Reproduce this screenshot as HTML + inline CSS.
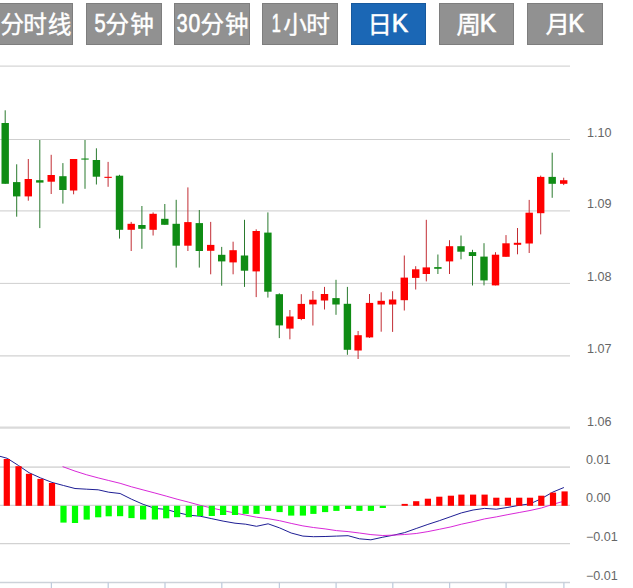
<!DOCTYPE html>
<html><head><meta charset="utf-8"><title>K</title>
<style>
html,body{margin:0;padding:0;background:#fff}
body{width:633px;height:588px;overflow:hidden;position:relative;font-family:"Liberation Sans",sans-serif}
.tab{box-shadow:inset 0 0 0 1px rgba(0,0,0,.13);position:absolute;top:3px;height:41.8px}
#chart{position:absolute;left:0;top:0}
#tabtxt{position:absolute;left:0;top:0}
.yl{position:absolute;font-size:12px;line-height:16px;height:16px;color:#666;white-space:nowrap;transform:scaleX(1.05);transform-origin:0 0}
</style></head><body>
<div class="tab" style="left:-2px;width:74.95px;background:#919191"></div>
<div class="tab" style="left:86px;width:75.9px;background:#919191"></div>
<div class="tab" style="left:174.05px;width:75.95px;background:#919191"></div>
<div class="tab" style="left:262px;width:76px;background:#919191"></div>
<div class="tab" style="left:351.05px;width:74.9px;background:#1b67b5"></div>
<div class="tab" style="left:439.05px;width:74.9px;background:#919191"></div>
<div class="tab" style="left:527.05px;width:75.85px;background:#919191"></div>
<svg id="tabtxt" width="633" height="50" viewBox="0 0 633 50" fill="#fff" font-family="Liberation Sans, Noto Sans CJK SC, sans-serif"><text x="0.58" y="33.10" font-size="23.6" stroke="#fff" stroke-width="0.4">分</text><text x="23.24" y="33.10" font-size="23.6" stroke="#fff" stroke-width="0.4">时</text><text x="47.72" y="33.10" font-size="23.6" stroke="#fff" stroke-width="0.4">线</text><text transform="translate(94.60 31.55) scale(1.0019 1.2464)" font-size="20" stroke="#fff" stroke-width="0.55">5</text><text x="105.59" y="33.10" font-size="23.6" stroke="#fff" stroke-width="0.4">分</text><text x="130.28" y="33.10" font-size="23.6" stroke="#fff" stroke-width="0.4">钟</text><text transform="translate(176.66 31.55) scale(0.9702 1.2464)" font-size="20" stroke="#fff" stroke-width="0.55">3</text><text transform="translate(188.57 31.55) scale(1.0564 1.2464)" font-size="20" stroke="#fff" stroke-width="0.55">0</text><text x="200.59" y="33.10" font-size="23.6" stroke="#fff" stroke-width="0.4">分</text><text x="224.98" y="33.10" font-size="23.6" stroke="#fff" stroke-width="0.4">钟</text><text transform="translate(271.66 31.55) scale(0.8118 1.2464)" font-size="20" stroke="#fff" stroke-width="0.55">1</text><text x="283.35" y="33.10" font-size="23.6" stroke="#fff" stroke-width="0.4">小</text><text x="306.21" y="33.10" font-size="23.6" stroke="#fff" stroke-width="0.4">时</text><text x="367.59" y="33.10" font-size="24.4" stroke="#fff" stroke-width="0.4">日</text><text transform="translate(391.78 31.55) scale(1.2288 1.2464)" font-size="20" stroke="#fff" stroke-width="0.55">K</text><text x="456.48" y="33.10" font-size="24.4" stroke="#fff" stroke-width="0.4">周</text><text transform="translate(479.78 31.55) scale(1.2288 1.2464)" font-size="20" stroke="#fff" stroke-width="0.55">K</text><text x="545.56" y="33.10" font-size="24.4" stroke="#fff" stroke-width="0.4">月</text><text transform="translate(568.24 31.55) scale(1.1939 1.2464)" font-size="20" stroke="#fff" stroke-width="0.55">K</text></svg>
<svg id="chart" width="633" height="588" viewBox="0 0 633 588">
<g fill="none"><path d="M0 66.05H570" stroke="#d6d6d6" stroke-width="1.3"/><path d="M0 139.50H570" stroke="#cfcfcf" stroke-width="1.0"/><path d="M0 210.95H570" stroke="#d6d6d6" stroke-width="1.3"/><path d="M0 283.40H570" stroke="#cfcfcf" stroke-width="1.0"/><path d="M0 355.85H570" stroke="#d2d2d2" stroke-width="1.2"/><path d="M0 427.60H570" stroke="#dadada" stroke-width="2.2"/><path d="M0 467.10H570" stroke="#dbdbdb" stroke-width="1.7"/><path d="M0 505.30H570" stroke="#d4d4d4" stroke-width="1.2"/><path d="M0 543.70H570" stroke="#d2d2d2" stroke-width="1.2"/><path d="M0 582.5H570" stroke="#cdd2d9" stroke-width="1.3"/><path d="M51.4 582.5V588" stroke="#bfcbdc" stroke-width="1.25"/><path d="M108.2 582.5V588" stroke="#bfcbdc" stroke-width="1.25"/><path d="M165.0 582.5V588" stroke="#bfcbdc" stroke-width="1.25"/><path d="M221.8 582.5V588" stroke="#bfcbdc" stroke-width="1.25"/><path d="M279.4 582.5V588" stroke="#bfcbdc" stroke-width="1.25"/><path d="M336.1 582.5V588" stroke="#bfcbdc" stroke-width="1.25"/><path d="M392.8 582.5V588" stroke="#bfcbdc" stroke-width="1.25"/><path d="M449.6 582.5V588" stroke="#bfcbdc" stroke-width="1.25"/><path d="M506.1 582.5V588" stroke="#bfcbdc" stroke-width="1.25"/><path d="M563.9 582.5V588" stroke="#bfcbdc" stroke-width="1.25"/></g>
<g><path d="M5.20 110.30V183.80" stroke="#2a7a2e" stroke-width="1"/><rect x="1.50" y="123.00" width="7.40" height="60.80" fill="#0f8c14"/><path d="M16.70 164.30V216.70" stroke="#2a7a2e" stroke-width="1"/><rect x="13.00" y="182.10" width="7.40" height="14.30" fill="#0f8c14"/><path d="M28.30 159.00V200.70" stroke="#c22d34" stroke-width="1"/><rect x="24.60" y="179.00" width="7.40" height="17.40" fill="#ff0000"/><path d="M39.80 140.00V228.10" stroke="#2a7a2e" stroke-width="1"/><rect x="36.10" y="180.20" width="7.40" height="2.40" fill="#0f8c14"/><path d="M51.20 154.80V194.00" stroke="#c22d34" stroke-width="1"/><rect x="47.50" y="175.00" width="7.40" height="6.70" fill="#ff0000"/><path d="M62.90 163.10V203.60" stroke="#2a7a2e" stroke-width="1"/><rect x="59.20" y="176.20" width="7.40" height="13.80" fill="#0f8c14"/><path d="M73.60 159.00V194.30" stroke="#c22d34" stroke-width="1"/><rect x="69.90" y="159.00" width="7.40" height="31.50" fill="#ff0000"/><path d="M85.00 140.00V188.80" stroke="#2a7a2e" stroke-width="1"/><rect x="81.30" y="158.50" width="7.40" height="1.10" fill="#0f8c14"/><path d="M96.40 148.30V184.50" stroke="#2a7a2e" stroke-width="1"/><rect x="92.70" y="160.00" width="7.40" height="16.70" fill="#0f8c14"/><path d="M108.10 161.90V186.80" stroke="#c22d34" stroke-width="1"/><rect x="104.40" y="176.80" width="7.40" height="1.10" fill="#ff0000"/><path d="M119.50 174.80V238.60" stroke="#2a7a2e" stroke-width="1"/><rect x="115.80" y="175.70" width="7.40" height="54.10" fill="#0f8c14"/><path d="M131.20 221.90V251.00" stroke="#c22d34" stroke-width="1"/><rect x="127.50" y="223.80" width="7.40" height="6.00" fill="#ff0000"/><path d="M141.90 206.00V248.80" stroke="#2a7a2e" stroke-width="1"/><rect x="138.20" y="225.00" width="7.40" height="3.80" fill="#0f8c14"/><path d="M153.10 212.40V235.50" stroke="#c22d34" stroke-width="1"/><rect x="149.40" y="213.80" width="7.40" height="16.00" fill="#ff0000"/><path d="M164.80 204.00V224.80" stroke="#2a7a2e" stroke-width="1"/><rect x="161.10" y="218.80" width="7.40" height="6.00" fill="#0f8c14"/><path d="M176.20 199.80V267.60" stroke="#2a7a2e" stroke-width="1"/><rect x="172.50" y="223.80" width="7.40" height="21.90" fill="#0f8c14"/><path d="M187.90 187.40V251.00" stroke="#c22d34" stroke-width="1"/><rect x="184.20" y="222.10" width="7.40" height="23.60" fill="#ff0000"/><path d="M199.30 210.00V267.60" stroke="#2a7a2e" stroke-width="1"/><rect x="195.60" y="223.10" width="7.40" height="27.90" fill="#0f8c14"/><path d="M210.70 221.90V274.30" stroke="#c22d34" stroke-width="1"/><rect x="207.00" y="244.90" width="7.40" height="5.90" fill="#ff0000"/><path d="M221.70 246.90V285.70" stroke="#2a7a2e" stroke-width="1"/><rect x="218.00" y="254.80" width="7.40" height="6.60" fill="#0f8c14"/><path d="M233.10 241.70V274.30" stroke="#c22d34" stroke-width="1"/><rect x="229.40" y="250.20" width="7.40" height="12.20" fill="#ff0000"/><path d="M244.50 219.80V286.90" stroke="#2a7a2e" stroke-width="1"/><rect x="240.80" y="255.50" width="7.40" height="15.20" fill="#0f8c14"/><path d="M256.20 229.30V297.10" stroke="#c22d34" stroke-width="1"/><rect x="252.50" y="231.00" width="7.40" height="40.40" fill="#ff0000"/><path d="M267.90 212.40V297.60" stroke="#2a7a2e" stroke-width="1"/><rect x="264.20" y="232.60" width="7.40" height="59.10" fill="#0f8c14"/><path d="M279.30 293.30V338.10" stroke="#2a7a2e" stroke-width="1"/><rect x="275.60" y="294.20" width="7.40" height="31.20" fill="#0f8c14"/><path d="M289.90 310.00V339.30" stroke="#c22d34" stroke-width="1"/><rect x="286.20" y="316.50" width="7.40" height="12.10" fill="#ff0000"/><path d="M301.30 294.20V320.20" stroke="#c22d34" stroke-width="1"/><rect x="297.60" y="303.90" width="7.40" height="15.10" fill="#ff0000"/><path d="M312.90 291.00V325.50" stroke="#c22d34" stroke-width="1"/><rect x="309.20" y="299.70" width="7.40" height="4.70" fill="#ff0000"/><path d="M324.50 286.90V309.50" stroke="#c22d34" stroke-width="1"/><rect x="320.80" y="294.00" width="7.40" height="6.50" fill="#ff0000"/><path d="M336.00 279.80V314.80" stroke="#2a7a2e" stroke-width="1"/><rect x="332.30" y="298.10" width="7.40" height="6.40" fill="#0f8c14"/><path d="M347.40 286.90V354.80" stroke="#2a7a2e" stroke-width="1"/><rect x="343.70" y="303.80" width="7.40" height="46.00" fill="#0f8c14"/><path d="M358.10 331.00V359.00" stroke="#c22d34" stroke-width="1"/><rect x="354.40" y="335.20" width="7.40" height="15.30" fill="#ff0000"/><path d="M369.50 294.00V337.90" stroke="#c22d34" stroke-width="1"/><rect x="365.80" y="302.90" width="7.40" height="34.50" fill="#ff0000"/><path d="M381.20 292.30V331.70" stroke="#c22d34" stroke-width="1"/><rect x="377.50" y="300.80" width="7.40" height="3.70" fill="#ff0000"/><path d="M392.60 291.20V331.90" stroke="#c22d34" stroke-width="1"/><rect x="388.90" y="299.50" width="7.40" height="5.00" fill="#ff0000"/><path d="M404.30 255.50V310.50" stroke="#c22d34" stroke-width="1"/><rect x="400.60" y="277.60" width="7.40" height="22.60" fill="#ff0000"/><path d="M415.70 266.20V289.50" stroke="#c22d34" stroke-width="1"/><rect x="412.00" y="269.30" width="7.40" height="8.60" fill="#ff0000"/><path d="M426.30 219.80V281.40" stroke="#c22d34" stroke-width="1"/><rect x="422.60" y="267.40" width="7.40" height="6.60" fill="#ff0000"/><path d="M437.90 254.50V274.00" stroke="#2a7a2e" stroke-width="1"/><rect x="434.20" y="267.10" width="7.40" height="1.70" fill="#0f8c14"/><path d="M449.50 240.20V274.00" stroke="#c22d34" stroke-width="1"/><rect x="445.80" y="246.20" width="7.40" height="15.20" fill="#ff0000"/><path d="M461.00 235.50V259.30" stroke="#2a7a2e" stroke-width="1"/><rect x="457.30" y="246.20" width="7.40" height="5.50" fill="#0f8c14"/><path d="M472.50 249.80V285.50" stroke="#2a7a2e" stroke-width="1"/><rect x="468.80" y="252.10" width="7.40" height="3.90" fill="#0f8c14"/><path d="M484.00 243.20V285.40" stroke="#2a7a2e" stroke-width="1"/><rect x="480.30" y="256.60" width="7.40" height="23.80" fill="#0f8c14"/><path d="M495.50 252.20V285.40" stroke="#c22d34" stroke-width="1"/><rect x="491.80" y="254.70" width="7.40" height="30.70" fill="#ff0000"/><path d="M506.00 235.10V256.80" stroke="#c22d34" stroke-width="1"/><rect x="502.30" y="243.30" width="7.40" height="13.50" fill="#ff0000"/><path d="M517.50 228.00V254.30" stroke="#c22d34" stroke-width="1"/><rect x="513.80" y="242.80" width="7.40" height="2.00" fill="#ff0000"/><path d="M529.20 199.90V253.00" stroke="#c22d34" stroke-width="1"/><rect x="525.50" y="212.70" width="7.40" height="30.80" fill="#ff0000"/><path d="M540.70 175.60V234.40" stroke="#c22d34" stroke-width="1"/><rect x="537.00" y="176.90" width="7.40" height="36.30" fill="#ff0000"/><path d="M552.20 152.70V197.80" stroke="#2a7a2e" stroke-width="1"/><rect x="548.50" y="176.90" width="7.40" height="6.90" fill="#0f8c14"/><path d="M563.70 177.70V185.10" stroke="#c22d34" stroke-width="1"/><rect x="560.00" y="180.20" width="7.40" height="3.60" fill="#ff0000"/></g>
<path d="M0.0 456.3 L7.2 458.3 L18.5 465.5 L29.0 472.7 L40.5 477.9 L52.0 482.4 L63.5 485.5 L75.0 488.5 L86.7 489.2 L98.2 489.8 L108.7 492.2 L120.1 493.5 L131.5 499.2 L143.1 504.3 L154.9 508.4 L166.2 509.4 L177.1 512.5 L188.8 515.2 L200.1 516.2 L211.8 518.7 L223.1 521.1 L235.0 523.2 L245.7 524.2 L256.5 526.3 L268.1 523.8 L279.6 527.9 L291.2 533.0 L302.9 536.1 L313.4 536.7 L325.1 536.5 L336.4 536.1 L348.1 535.7 L359.4 538.8 L370.9 539.8 L382.8 537.2 L393.9 535.1 L404.7 532.6 L416.2 528.5 L427.9 524.4 L439.3 520.7 L450.9 516.6 L461.4 512.9 L473.1 510.0 L484.6 508.4 L496.3 509.2 L507.9 507.4 L519.2 505.3 L530.0 503.9 L541.3 498.7 L553.0 492.0 L563.9 487.5" fill="none" stroke="#12128e" stroke-width="0.95" stroke-linejoin="round"/>
<path d="M62.6 466.6 L75.0 471.1 L86.7 474.8 L98.2 477.9 L108.7 480.5 L120.1 483.3 L131.5 486.8 L143.1 489.9 L154.9 493.0 L166.2 496.1 L177.1 499.2 L188.8 502.2 L200.1 505.3 L211.8 508.0 L223.1 510.5 L235.0 513.1 L245.7 515.1 L256.5 517.2 L268.1 518.7 L279.6 520.7 L291.2 523.4 L302.9 525.9 L313.4 527.5 L325.1 528.9 L336.4 530.6 L348.1 531.6 L359.4 533.0 L370.9 534.6 L382.8 535.5 L393.9 535.1 L404.7 534.5 L416.2 533.5 L427.9 531.6 L439.3 529.3 L450.9 526.9 L461.4 524.2 L473.1 521.7 L484.6 518.9 L496.3 516.9 L507.9 514.6 L519.2 512.5 L530.0 510.5 L541.3 508.0 L553.0 504.3 L563.9 501.2" fill="none" stroke="#d61cd6" stroke-width="0.95" stroke-linejoin="round"/>
<g><rect x="3.70" y="459.00" width="6.20" height="46.80" fill="#ff0000"/><rect x="15.40" y="466.20" width="6.20" height="39.60" fill="#ff0000"/><rect x="25.90" y="473.80" width="6.20" height="32.00" fill="#ff0000"/><rect x="37.40" y="478.90" width="6.20" height="26.90" fill="#ff0000"/><rect x="48.90" y="483.00" width="6.20" height="22.80" fill="#ff0000"/><rect x="60.40" y="505.80" width="6.20" height="16.80" fill="#00ff00"/><rect x="71.90" y="505.80" width="6.20" height="17.20" fill="#00ff00"/><rect x="83.60" y="505.80" width="6.20" height="13.80" fill="#00ff00"/><rect x="95.10" y="505.80" width="6.20" height="11.50" fill="#00ff00"/><rect x="105.60" y="505.80" width="6.20" height="10.50" fill="#00ff00"/><rect x="117.00" y="505.80" width="6.20" height="10.40" fill="#00ff00"/><rect x="128.40" y="505.80" width="6.20" height="12.30" fill="#00ff00"/><rect x="140.00" y="505.80" width="6.20" height="13.70" fill="#00ff00"/><rect x="151.80" y="505.80" width="6.20" height="13.70" fill="#00ff00"/><rect x="163.10" y="505.80" width="6.20" height="12.50" fill="#00ff00"/><rect x="174.00" y="505.80" width="6.20" height="11.40" fill="#00ff00"/><rect x="185.70" y="505.80" width="6.20" height="11.40" fill="#00ff00"/><rect x="197.00" y="505.80" width="6.20" height="10.20" fill="#00ff00"/><rect x="208.70" y="505.80" width="6.20" height="10.20" fill="#00ff00"/><rect x="220.00" y="505.80" width="6.20" height="9.20" fill="#00ff00"/><rect x="231.90" y="505.80" width="6.20" height="9.20" fill="#00ff00"/><rect x="242.60" y="505.80" width="6.20" height="8.10" fill="#00ff00"/><rect x="253.40" y="505.80" width="6.20" height="8.10" fill="#00ff00"/><rect x="265.00" y="505.80" width="6.20" height="5.10" fill="#00ff00"/><rect x="276.50" y="505.80" width="6.20" height="6.30" fill="#00ff00"/><rect x="288.10" y="505.80" width="6.20" height="9.80" fill="#00ff00"/><rect x="299.80" y="505.80" width="6.20" height="9.80" fill="#00ff00"/><rect x="310.30" y="505.80" width="6.20" height="8.10" fill="#00ff00"/><rect x="322.00" y="505.80" width="6.20" height="6.30" fill="#00ff00"/><rect x="333.30" y="505.80" width="6.20" height="5.10" fill="#00ff00"/><rect x="345.00" y="505.80" width="6.20" height="3.20" fill="#00ff00"/><rect x="356.30" y="505.80" width="6.20" height="5.10" fill="#00ff00"/><rect x="367.80" y="505.80" width="6.20" height="5.10" fill="#00ff00"/><rect x="379.70" y="505.80" width="6.20" height="2.20" fill="#00ff00"/><rect x="401.60" y="503.90" width="6.20" height="1.90" fill="#ff0000"/><rect x="413.10" y="501.20" width="6.20" height="4.60" fill="#ff0000"/><rect x="424.80" y="498.70" width="6.20" height="7.10" fill="#ff0000"/><rect x="436.20" y="496.70" width="6.20" height="9.10" fill="#ff0000"/><rect x="447.80" y="495.70" width="6.20" height="10.10" fill="#ff0000"/><rect x="458.30" y="494.60" width="6.20" height="11.20" fill="#ff0000"/><rect x="470.00" y="494.60" width="6.20" height="11.20" fill="#ff0000"/><rect x="481.50" y="494.60" width="6.20" height="11.20" fill="#ff0000"/><rect x="493.20" y="497.70" width="6.20" height="8.10" fill="#ff0000"/><rect x="504.80" y="497.70" width="6.20" height="8.10" fill="#ff0000"/><rect x="516.10" y="497.70" width="6.20" height="8.10" fill="#ff0000"/><rect x="526.90" y="497.70" width="6.20" height="8.10" fill="#ff0000"/><rect x="538.20" y="495.70" width="6.20" height="10.10" fill="#ff0000"/><rect x="549.90" y="492.60" width="6.20" height="13.20" fill="#ff0000"/><rect x="561.50" y="491.40" width="6.20" height="14.40" fill="#ff0000"/></g>
</svg>
<div class="yl" style="top:124.6px;left:586.5px">1.10</div><div class="yl" style="top:196.1px;left:586.5px">1.09</div><div class="yl" style="top:268.5px;left:586.5px">1.08</div><div class="yl" style="top:340.9px;left:586.5px">1.07</div><div class="yl" style="top:414.2px;left:586.5px">1.06</div><div class="yl" style="top:451.6px;left:585.5px">0.01</div><div class="yl" style="top:489.8px;left:585.5px">0.00</div><div class="yl" style="top:529.3px;left:585.5px">−0.01</div><div class="yl" style="top:567.7px;left:585.5px">−0.01</div>
</body></html>
